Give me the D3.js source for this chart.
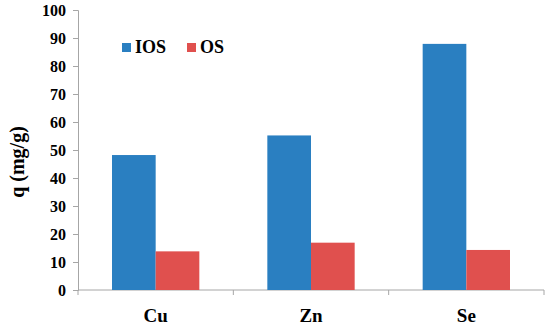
<!DOCTYPE html>
<meta charset="utf-8">
<style>
body { margin: 0; background: #fff; }
.axis path, .axis line { stroke: #a6a6a6; }
</style>
<svg width="550" height="325"></svg>
<script src="https://d3js.org/d3.v7.min.js"></script>
<script>
var categories = ["Cu", "Zn", "Se"];
var seriesNames = ["IOS", "OS"];
var iosValues = [48.2, 55.2, 87.9];
var osValues = [13.8, 16.9, 14.3];
var yTicks = [0, 10, 20, 30, 40, 50, 60, 70, 80, 90, 100];

var colors = {IOS: "#2a7fc1", OS: "#e0504e"};
var serif = "'Liberation Serif'";

var data = categories.map(function(c, i) {
  return {cat: c, IOS: iosValues[i], OS: osValues[i]};
});

var svg = d3.select("svg"),
    margin = {top: 10, right: 6, bottom: 35, left: 78},
    width = 550 - margin.left - margin.right,
    height = 325 - margin.top - margin.bottom,
    g = svg.append("g").attr("transform", "translate(" + margin.left + "," + margin.top + ")");

var x0 = d3.scaleBand().domain(categories).range([0, width]);
var x1 = d3.scaleBand().domain(seriesNames).range([34, x0.bandwidth() - 34]);
var y = d3.scaleLinear().domain([0, 100]).range([height, 0]);

// y axis
var yAxis = g.append("g")
    .attr("class", "axis")
    .call(d3.axisLeft(y).tickValues(yTicks).tickSize(5).tickPadding(7));
yAxis.selectAll("text")
    .style("font-family", serif).style("font-weight", "bold")
    .style("font-size", "16px").attr("fill", "#000");

// x axis with tick marks at category borders
var xAxis = g.append("g")
    .attr("class", "axis")
    .attr("transform", "translate(0," + height + ")");
xAxis.append("line").attr("x1", 0).attr("x2", width).attr("stroke", "#a6a6a6");
xAxis.selectAll(".tk")
    .data(d3.range(categories.length + 1))
  .enter().append("line")
    .attr("x1", function(i) { return i * x0.step(); })
    .attr("x2", function(i) { return i * x0.step(); })
    .attr("y1", 0).attr("y2", 5)
    .attr("stroke", "#a6a6a6");
xAxis.selectAll(".lbl")
    .data(categories)
  .enter().append("text")
    .attr("x", function(d) { return x0(d) + x0.bandwidth() / 2; })
    .attr("y", 32)
    .attr("text-anchor", "middle")
    .style("font-family", serif).style("font-weight", "bold")
    .style("font-size", "19px")
    .text(function(d) { return d; });

// bars
var grp = g.selectAll(".grp")
    .data(data)
  .enter().append("g")
    .attr("transform", function(d) { return "translate(" + x0(d.cat) + ",0)"; });

grp.selectAll("rect")
    .data(function(d) { return seriesNames.map(function(k) { return {key: k, value: d[k]}; }); })
  .enter().append("rect")
    .attr("x", function(d) { return x1(d.key); })
    .attr("width", x1.bandwidth())
    .attr("y", function(d) { return y(d.value); })
    .attr("height", function(d) { return height - y(d.value); })
    .attr("fill", function(d) { return colors[d.key]; });

// y title
svg.append("text")
    .attr("transform", "translate(24," + (margin.top + height / 2 + 12) + ") rotate(-90)")
    .attr("text-anchor", "middle")
    .style("font-family", serif).style("font-weight", "bold")
    .style("font-size", "20px")
    .text("q (mg/g)");

// legend
var legend = svg.selectAll(".legend")
    .data(seriesNames)
  .enter().append("g")
    .attr("transform", function(d, i) { return "translate(" + (122 + i * 65) + ",43)"; });
legend.append("rect").attr("width", 9).attr("height", 9)
    .attr("fill", function(d) { return colors[d]; });
legend.append("text").attr("x", 13).attr("y", 10)
    .style("font-family", serif).style("font-weight", "bold")
    .style("font-size", "18px")
    .text(function(d) { return d; });
</script>
